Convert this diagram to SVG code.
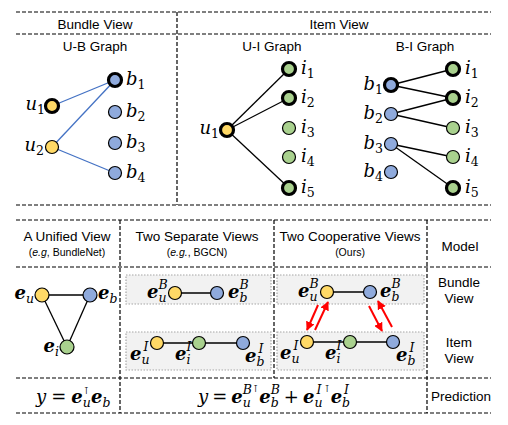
<svg xmlns="http://www.w3.org/2000/svg" width="508" height="425" viewBox="0 0 508 425">
<defs>
<style>
.bg{fill:#fff}
.dash{stroke:#000;stroke-width:1.2;stroke-dasharray:4 2;fill:none}
.box{fill:#f2f2f2;stroke:#a6a6a6;stroke-width:1.2;stroke-dasharray:1.5 1.5}
.t{font-family:"Liberation Sans",Arial,sans-serif;font-size:13.5px;fill:#000;text-anchor:middle}
.s{font-family:"Liberation Sans",Arial,sans-serif;font-size:10.5px;fill:#000;text-anchor:middle}
.m{font-family:"DejaVu Serif","Liberation Serif",serif;font-style:italic;font-size:18px;fill:#000}
.e{font-family:"DejaVu Serif","Liberation Serif",serif;font-style:italic;font-weight:bold;font-size:18px;fill:#000}
.sub{font-size:12.5px;font-weight:normal}
.d{font-style:normal}
.nu{fill:#ffd966;stroke:#000;stroke-width:1.2}
.nb{fill:#8faadc;stroke:#000;stroke-width:1.2}
.ni{fill:#a9d18e;stroke:#000;stroke-width:1.2}
.hl{stroke-width:3.2}
.eb{stroke:#4472c4;stroke-width:1.3;fill:none}
.ek{stroke:#000;stroke-width:1.3;fill:none}
.ar{stroke:#ff0000;stroke-width:2;fill:none}
.tr{font-family:"DejaVu Sans",sans-serif;font-style:normal;font-weight:normal;font-size:10px}
</style>
<marker id="ah" viewBox="0 0 10 10" refX="9" refY="5" markerWidth="4.5" markerHeight="4.5" orient="auto" markerUnits="strokeWidth">
<path d="M0,0 L10,5 L0,10 z" fill="#ff0000"/>
</marker>
</defs>
<rect class="bg" x="0" y="0" width="508" height="425"/>

<g id="table-lines">
<line class="dash" x1="16" y1="12" x2="491" y2="12"/>
<line class="dash" x1="16" y1="34" x2="491" y2="34"/>
<line class="dash" x1="16" y1="205" x2="491" y2="205"/>
<line class="dash" x1="177" y1="12" x2="177" y2="205"/>
<line class="dash" x1="16" y1="220" x2="491" y2="220"/>
<line class="dash" x1="16" y1="267" x2="491" y2="267"/>
<line class="dash" x1="16" y1="378" x2="491" y2="378"/>
<line class="dash" x1="16" y1="413" x2="491" y2="413"/>
<line class="dash" x1="120" y1="220" x2="120" y2="413"/>
<line class="dash" x1="274" y1="220" x2="274" y2="378"/>
<line class="dash" x1="427" y1="220" x2="427" y2="413"/>
</g>

<g id="headers">
<text class="t" x="95" y="29">Bundle View</text>
<text class="t" x="339" y="29">Item View</text>
<text class="t" x="95" y="51">U-B Graph</text>
<text class="t" x="272" y="51">U-I Graph</text>
<text class="t" x="425" y="51">B-I Graph</text>
<text class="t" x="67" y="241">A Unified View</text>
<text class="s" x="67" y="256">(<tspan font-style="italic">e.g</tspan>, BundleNet)</text>
<text class="t" x="197" y="241">Two Separate Views</text>
<text class="s" x="197" y="256">(<tspan font-style="italic">e.g.</tspan>, BGCN)</text>
<text class="t" x="350" y="241">Two Cooperative Views</text>
<text class="s" x="350" y="256">(Ours)</text>
<text class="t" x="460" y="251">Model</text>
<text class="t" x="459" y="287">Bundle</text>
<text class="t" x="459" y="303">View</text>
<text class="t" x="459" y="347">Item</text>
<text class="t" x="459" y="363">View</text>
<text class="t" x="461" y="401">Prediction</text>
</g>

<g id="connectors">
<line class="eb" x1="52" y1="106" x2="115" y2="80"/>
<line class="eb" x1="52" y1="147" x2="115" y2="80"/>
<line class="eb" x1="52" y1="147" x2="115" y2="173"/>
<line class="ek" x1="227" y1="130" x2="289" y2="69"/>
<line class="ek" x1="227" y1="130" x2="289" y2="98"/>
<line class="ek" x1="227" y1="130" x2="289" y2="188"/>
<line class="ek" x1="391" y1="85" x2="453" y2="69"/>
<line class="ek" x1="391" y1="85" x2="453" y2="98"/>
<line class="ek" x1="391" y1="114" x2="453" y2="98"/>
<line class="ek" x1="391" y1="114" x2="453" y2="128"/>
<line class="ek" x1="391" y1="144" x2="453" y2="157"/>
<line class="ek" x1="391" y1="144" x2="453" y2="188"/>
<line class="ek" x1="42" y1="295" x2="90" y2="295"/>
<line class="ek" x1="42" y1="295" x2="67" y2="347"/>
<line class="ek" x1="90" y1="295" x2="67" y2="347"/>
</g>

<g id="view-boxes">
<rect class="box" x="126" y="275" width="145" height="29"/>
<rect class="box" x="126" y="332" width="145" height="38"/>
<rect class="box" x="277" y="275" width="147" height="29"/>
<rect class="box" x="277" y="332" width="147" height="38"/>
</g>

<g id="view-connectors">
<line class="ek" x1="175" y1="293" x2="217" y2="293"/>
<line class="ek" x1="157" y1="343" x2="243" y2="343"/>
<line class="ek" x1="327" y1="292" x2="370" y2="292"/>
<line class="ek" x1="307" y1="342" x2="393" y2="342"/>
<line class="ar" x1="318" y1="305" x2="307" y2="330" marker-end="url(#ah)"/>
<line class="ar" x1="315" y1="330" x2="328" y2="302" marker-end="url(#ah)"/>
<line class="ar" x1="369" y1="306" x2="382" y2="331" marker-end="url(#ah)"/>
<line class="ar" x1="392" y1="327" x2="378" y2="301" marker-end="url(#ah)"/>
</g>

<g id="ub-graph">
<g id="ub-u1"><circle class="nu hl" cx="52" cy="106" r="6.5"/><text class="m" x="45" y="110" text-anchor="end">u<tspan class="sub d" dy="4">1</tspan></text></g>
<g id="ub-u2"><circle class="nu" cx="52" cy="147" r="6.5"/><text class="m" x="44" y="151" text-anchor="end">u<tspan class="sub d" dy="4">2</tspan></text></g>
<g id="ub-b1"><circle class="nb hl" cx="115" cy="80" r="6.5"/><text class="m" x="126" y="85">b<tspan class="sub d" dy="4">1</tspan></text></g>
<g id="ub-b2"><circle class="nb" cx="115" cy="112" r="6.5"/><text class="m" x="126" y="117">b<tspan class="sub d" dy="4">2</tspan></text></g>
<g id="ub-b3"><circle class="nb" cx="115" cy="143" r="6.5"/><text class="m" x="126" y="148">b<tspan class="sub d" dy="4">3</tspan></text></g>
<g id="ub-b4"><circle class="nb" cx="115" cy="173" r="6.5"/><text class="m" x="126" y="178">b<tspan class="sub d" dy="4">4</tspan></text></g>
</g>

<g id="ui-graph">
<g id="ui-u1"><circle class="nu hl" cx="227" cy="130" r="6.5"/><text class="m" x="219" y="134" text-anchor="end">u<tspan class="sub d" dy="4">1</tspan></text></g>
<g id="ui-i1"><circle class="ni hl" cx="289" cy="69" r="6.5"/><text class="m" x="301" y="74">i<tspan class="sub d" dy="4">1</tspan></text></g>
<g id="ui-i2"><circle class="ni hl" cx="289" cy="98" r="6.5"/><text class="m" x="301" y="103">i<tspan class="sub d" dy="4">2</tspan></text></g>
<g id="ui-i3"><circle class="ni" cx="289" cy="128" r="6.5"/><text class="m" x="301" y="133">i<tspan class="sub d" dy="4">3</tspan></text></g>
<g id="ui-i4"><circle class="ni" cx="289" cy="157" r="6.5"/><text class="m" x="301" y="162">i<tspan class="sub d" dy="4">4</tspan></text></g>
<g id="ui-i5"><circle class="ni hl" cx="289" cy="188" r="6.5"/><text class="m" x="301" y="193">i<tspan class="sub d" dy="4">5</tspan></text></g>
</g>

<g id="bi-graph">
<g id="bi-b1"><circle class="nb hl" cx="391" cy="85" r="6.5"/><text class="m" x="383" y="90" text-anchor="end">b<tspan class="sub d" dy="4">1</tspan></text></g>
<g id="bi-b2"><circle class="nb" cx="391" cy="114" r="6.5"/><text class="m" x="383" y="119" text-anchor="end">b<tspan class="sub d" dy="4">2</tspan></text></g>
<g id="bi-b3"><circle class="nb" cx="391" cy="144" r="6.5"/><text class="m" x="383" y="149" text-anchor="end">b<tspan class="sub d" dy="4">3</tspan></text></g>
<g id="bi-b4"><circle class="nb" cx="391" cy="172" r="6.5"/><text class="m" x="383" y="177" text-anchor="end">b<tspan class="sub d" dy="4">4</tspan></text></g>
<g id="bi-i1"><circle class="ni hl" cx="453" cy="69" r="6.5"/><text class="m" x="465" y="74">i<tspan class="sub d" dy="4">1</tspan></text></g>
<g id="bi-i2"><circle class="ni hl" cx="453" cy="98" r="6.5"/><text class="m" x="465" y="103">i<tspan class="sub d" dy="4">2</tspan></text></g>
<g id="bi-i3"><circle class="ni" cx="453" cy="128" r="6.5"/><text class="m" x="465" y="133">i<tspan class="sub d" dy="4">3</tspan></text></g>
<g id="bi-i4"><circle class="ni" cx="453" cy="157" r="6.5"/><text class="m" x="465" y="162">i<tspan class="sub d" dy="4">4</tspan></text></g>
<g id="bi-i5"><circle class="ni hl" cx="453" cy="188" r="6.5"/><text class="m" x="465" y="193">i<tspan class="sub d" dy="4">5</tspan></text></g>
</g>

<g id="unified">
<g id="un-eu"><circle class="nu" cx="42" cy="295" r="7"/><text class="e" x="34" y="299" text-anchor="end">e<tspan class="sub" dy="4">u</tspan></text></g>
<g id="un-eb"><circle class="nb" cx="90" cy="295" r="7"/><text class="e" x="98" y="299">e<tspan class="sub" dy="4">b</tspan></text></g>
<g id="un-ei"><circle class="ni" cx="67" cy="347" r="7"/><text class="e" x="59" y="352" text-anchor="end">e<tspan class="sub" dy="4">i</tspan></text></g>
</g>

<g id="separate">
<g id="sp-euB"><circle class="nu" cx="175" cy="293" r="6.5"/><text class="e" x="147" y="298">e<tspan class="sub" dy="4">u</tspan><tspan class="sub" dx="-8" dy="-13">B</tspan></text></g>
<g id="sp-ebB"><circle class="nb" cx="217" cy="293" r="6.5"/><text class="e" x="228" y="298">e<tspan class="sub" dy="4">b</tspan><tspan class="sub" dx="-8" dy="-13">B</tspan></text></g>
<g id="sp-euI"><circle class="nu" cx="157" cy="343" r="6.5"/><text class="e" x="130" y="360">e<tspan class="sub" dy="4">u</tspan><tspan class="sub" dx="-6" dy="-13">I</tspan></text></g>
<g id="sp-eiI"><circle class="ni" cx="199" cy="343" r="6.5"/><text class="e" x="175" y="360">e<tspan class="sub" dy="4">i</tspan><tspan class="sub" dx="-4" dy="-13">I</tspan></text></g>
<g id="sp-ebI"><circle class="nb" cx="243" cy="343" r="6.5"/><text class="e" x="245" y="362">e<tspan class="sub" dy="4">b</tspan><tspan class="sub" dx="-6" dy="-13">I</tspan></text></g>
</g>

<g id="cooperative">
<g id="co-euB"><circle class="nu" cx="327" cy="292" r="6.5"/><text class="e" x="298" y="297">e<tspan class="sub" dy="4">u</tspan><tspan class="sub" dx="-8" dy="-13">B</tspan></text></g>
<g id="co-ebB"><circle class="nb" cx="370" cy="292" r="6.5"/><text class="e" x="380" y="297">e<tspan class="sub" dy="4">b</tspan><tspan class="sub" dx="-8" dy="-13">B</tspan></text></g>
<g id="co-euI"><circle class="nu" cx="307" cy="342" r="6.5"/><text class="e" x="280" y="359">e<tspan class="sub" dy="4">u</tspan><tspan class="sub" dx="-6" dy="-13">I</tspan></text></g>
<g id="co-eiI"><circle class="ni" cx="350" cy="342" r="6.5"/><text class="e" x="325" y="359">e<tspan class="sub" dy="4">i</tspan><tspan class="sub" dx="-4" dy="-13">I</tspan></text></g>
<g id="co-ebI"><circle class="nb" cx="393" cy="342" r="6.5"/><text class="e" x="396" y="361">e<tspan class="sub" dy="4">b</tspan><tspan class="sub" dx="-6" dy="-13">I</tspan></text></g>
</g>

<g id="formulas">
<text class="m" x="36" y="403"><tspan>y</tspan><tspan class="d" dx="5">=</tspan><tspan class="e" dx="5">e</tspan><tspan class="sub" dy="4">u</tspan><tspan class="tr" dx="-7" dy="-13">⊺</tspan><tspan class="e" dx="2" dy="9">e</tspan><tspan class="sub" dy="4">b</tspan></text>
<text class="m" x="198" y="403"><tspan>y</tspan><tspan class="d" dx="4">=</tspan><tspan class="e" dx="4">e</tspan><tspan class="sub" dy="4">u</tspan><tspan class="sub" dx="-8" dy="-13">B</tspan><tspan class="tr" dx="1" dy="-2">⊺</tspan><tspan class="e" dx="1" dy="11">e</tspan><tspan class="sub" dy="4">b</tspan><tspan class="sub" dx="-8" dy="-13">B</tspan><tspan class="d" dx="4" dy="9">+</tspan><tspan class="e" dx="4">e</tspan><tspan class="sub" dy="4">u</tspan><tspan class="sub" dx="-6" dy="-13">I</tspan><tspan class="tr" dx="3" dy="-2">⊺</tspan><tspan class="e" dx="1" dy="11">e</tspan><tspan class="sub" dy="4">b</tspan><tspan class="sub" dx="-6" dy="-13">I</tspan></text>
</g>
</svg>
